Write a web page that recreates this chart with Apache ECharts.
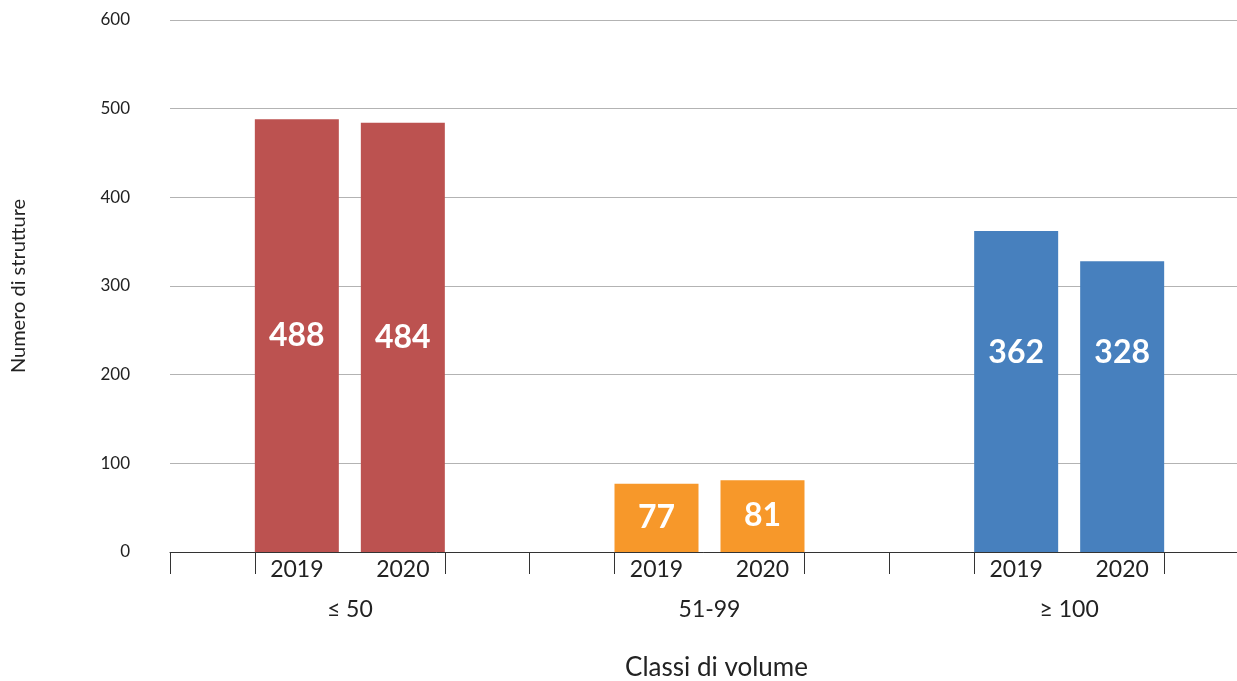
<!DOCTYPE html>
<html>
<head>
<meta charset="utf-8">
<script src="https://cdn.jsdelivr.net/npm/echarts@6/dist/echarts.min.js"></script>
<style>
    html, body { margin: 0; padding: 0; background: #fff; }
    #chart { width: 1237px; height: 681px; }
</style>
</head>
<body>
<div id="chart"></div>
<script>
// 数据
const groups = ['≤ 50', '51-99', '≥ 100'];
const years = ['2019', '2020'];
const values2019 = [488, 77, 362];
const values2020 = [484, 81, 328];
const groupColors = ['#BC5250', '#F7982A', '#4780BE'];

const FONT = 'Lato, "Open Sans", sans-serif';
const chart = echarts.init(document.getElementById('chart'));

// 布局参数
const GRID_TOP = 20;
const GRID_BOTTOM = 129;
const PX_PER_UNIT = (681 - GRID_TOP - GRID_BOTTOM) / 600;
const BAR_W = 84;
const BAR_GAP = 22;
const GROUP_W = (1249 - 170) / 3;
const edgeOff = (GROUP_W - 2 * BAR_W - BAR_GAP) / 2 / GROUP_W;
// 第三组的数值标签放在同一高度
const BLUE_LABEL_AT = 225;

// 每组两个柱子的边缘刻度（以组宽为单位）
const subTicks = [];
groups.forEach((g, i) => {
    subTicks.push(i + edgeOff, i + 1 - edgeOff);
});

function makeSeries(name, data) {
    return {
        name: name,
        type: 'bar',
        xAxisIndex: 0,
        barWidth: BAR_W,
        barGap: (BAR_GAP / BAR_W * 100) + '%',
        data: data.map((v, i) => {
            const item = { value: v };
            if (i === 2) {
                item.label = { offset: [0, -(BLUE_LABEL_AT - v / 2) * PX_PER_UNIT] };
            }
            return item;
        }),
        itemStyle: {
            color: p => groupColors[p.dataIndex]
        },
        label: {
            show: true,
            position: 'inside',
            color: '#fff',
            fontFamily: FONT,
            fontWeight: 'bold',
            fontSize: 32
        }
    };
}

const option = {
    animation: false,
    grid: { left: 170, right: -12, top: GRID_TOP, bottom: GRID_BOTTOM, outerBoundsMode: 'none', containLabel: false },
    xAxis: [
        {
            type: 'category',
            data: groups,
            name: 'Classi di volume',
            nameLocation: 'middle',
            nameGap: 103,
            nameTextStyle: { fontFamily: FONT, fontSize: 26, color: '#222', padding: [0, 0, 0, 14] },
            axisLine: { show: true, lineStyle: { color: '#333', width: 1 } },
            axisTick: { show: true, length: 22, lineStyle: { color: '#333' } },
            axisLabel: {
                interval: 0,
                margin: 3,
                formatter: v => '{y|' + years[0] + '}{y|' + years[1] + '}\n{g|' + v + '}',
                rich: {
                    y: { fontFamily: FONT, fontSize: 23, color: '#222', width: 106, align: 'center', lineHeight: 30 },
                    g: { fontFamily: FONT, fontSize: 23, color: '#222', align: 'center', lineHeight: 50 }
                }
            }
        },
        {
            // 子分类刻度
            type: 'value',
            min: 0,
            max: 3,
            position: 'bottom',
            axisLine: { show: false },
            axisTick: { show: true, length: 22, customValues: subTicks, lineStyle: { color: '#333' } },
            axisLabel: { show: false },
            splitLine: { show: false }
        }
    ],
    yAxis: {
        type: 'value',
        min: 0,
        max: 600,
        interval: 100,
        name: 'Numero di strutture',
        nameLocation: 'middle',
        nameGap: 141,
        nameRotate: 90,
        nameTextStyle: { fontFamily: FONT, fontSize: 20, color: '#222' },
        axisLine: { show: false },
        axisTick: { show: false },
        axisLabel: { margin: 40, fontFamily: FONT, fontSize: 17, color: '#222' },
        splitLine: { lineStyle: { color: '#b3b3b3', width: 1 } }
    },
    series: [
        makeSeries(years[0], values2019),
        makeSeries(years[1], values2020)
    ]
};

chart.setOption(option);
</script>
</body>
</html>
